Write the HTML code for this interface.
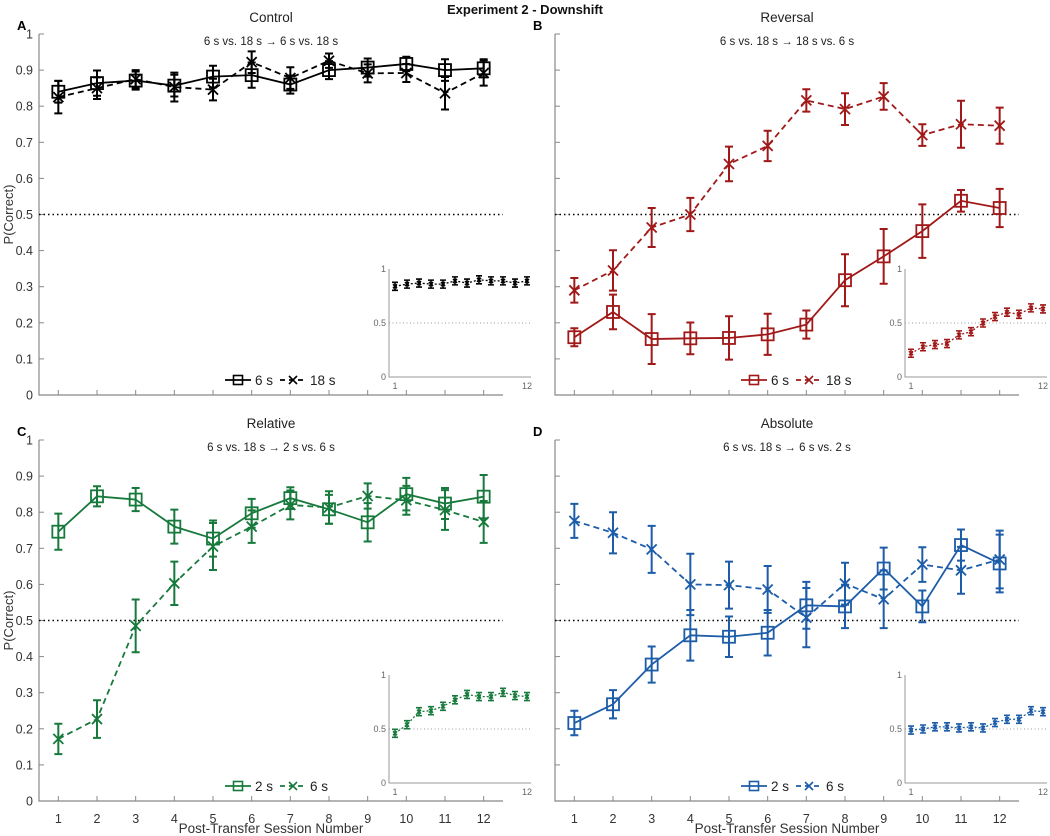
<!DOCTYPE html>
<html><head><meta charset="utf-8">
<style>
html,body{margin:0;padding:0;background:#fff;}
svg{display:block;font-family:"Liberation Sans",Arial,sans-serif;}
</style></head>
<body>
<svg id="fig" width="1050" height="836" viewBox="0 0 1050 836">
<text x="525" y="14" text-anchor="middle" font-size="13" font-weight="bold" fill="#111">Experiment 2 - Downshift</text>
</svg>
<script>
const sessions=[1,2,3,4,5,6,7,8,9,10,11,12];
const yTicks=[0,0.1,0.2,0.3,0.4,0.5,0.6,0.7,0.8,0.9,1];
const yTickLabels=["0","0.1","0.2","0.3","0.4","0.5","0.6","0.7","0.8","0.9","1"];
// Panel A Control
const aSolid=[0.84,0.864,0.871,0.857,0.882,0.886,0.86,0.90,0.907,0.917,0.90,0.905];
const aSolidErr=[0.03,0.035,0.025,0.03,0.03,0.035,0.025,0.025,0.025,0.02,0.03,0.025];
const aDash=[0.825,0.85,0.875,0.853,0.846,0.922,0.878,0.926,0.891,0.892,0.836,0.892];
const aDashErr=[0.045,0.03,0.025,0.04,0.03,0.03,0.03,0.02,0.025,0.025,0.045,0.035];
const aInset=[0.84,0.86,0.87,0.86,0.86,0.89,0.87,0.9,0.89,0.89,0.87,0.89];
// Panel B Reversal
const bSolid=[0.16,0.23,0.155,0.157,0.158,0.168,0.195,0.318,0.384,0.454,0.538,0.518];
const bSolidErr=[0.025,0.048,0.069,0.044,0.06,0.057,0.039,0.072,0.076,0.074,0.03,0.053];
const bDash=[0.29,0.345,0.464,0.50,0.64,0.69,0.816,0.792,0.827,0.72,0.75,0.746];
const bDashErr=[0.034,0.056,0.054,0.046,0.048,0.042,0.031,0.044,0.037,0.03,0.065,0.05];
const bInset=[0.22,0.28,0.30,0.31,0.39,0.42,0.50,0.56,0.60,0.58,0.64,0.63];
// Panel C Relative
const cSolid=[0.746,0.844,0.835,0.76,0.727,0.797,0.839,0.808,0.772,0.85,0.824,0.843];
const cSolidErr=[0.05,0.028,0.032,0.047,0.05,0.04,0.03,0.04,0.053,0.045,0.043,0.06];
const cDash=[0.172,0.227,0.485,0.603,0.705,0.76,0.82,0.813,0.845,0.833,0.806,0.773];
const cDashErr=[0.042,0.052,0.073,0.06,0.065,0.045,0.04,0.045,0.035,0.04,0.055,0.058];
const cInset=[0.46,0.54,0.66,0.67,0.71,0.77,0.82,0.80,0.80,0.84,0.81,0.80];
// Panel D Absolute
const dSolid=[0.216,0.268,0.378,0.459,0.455,0.466,0.542,0.539,0.644,0.539,0.709,0.658];
const dSolidErr=[0.034,0.039,0.05,0.07,0.056,0.063,0.065,0.06,0.058,0.044,0.043,0.08];
const dDash=[0.776,0.743,0.697,0.60,0.598,0.586,0.508,0.602,0.559,0.655,0.639,0.669];
const dDashErr=[0.047,0.057,0.065,0.085,0.065,0.065,0.082,0.058,0.08,0.048,0.065,0.08];
const dInset=[0.49,0.50,0.52,0.52,0.51,0.52,0.51,0.56,0.59,0.59,0.67,0.66];

const NS="http://www.w3.org/2000/svg";
const svg=document.getElementById('fig');
function mk(tag,attrs,parent){const e=document.createElementNS(NS,tag);for(const k in attrs)e.setAttribute(k,attrs[k]);(parent||svg).appendChild(e);return e;}

const panels=[
 {id:'a',letter:'A',title:'Control',sub:'6 s vs. 18 s \u2192 6 s vs. 18 s',ax:39,top:34,color:'#000',solid:aSolid,se:aSolidErr,dash:aDash,de:aDashErr,inset:aInset,l1:'6 s',l2:'18 s',ylab:true,xlab:false},
 {id:'b',letter:'B',title:'Reversal',sub:'6 s vs. 18 s \u2192 18 s vs. 6 s',ax:555,top:34,color:'#a01818',solid:bSolid,se:bSolidErr,dash:bDash,de:bDashErr,inset:bInset,l1:'6 s',l2:'18 s',ylab:false,xlab:false},
 {id:'c',letter:'C',title:'Relative',sub:'6 s vs. 18 s \u2192 2 s vs. 6 s',ax:39,top:440,color:'#177a3c',solid:cSolid,se:cSolidErr,dash:cDash,de:cDashErr,inset:cInset,l1:'2 s',l2:'6 s',ylab:true,xlab:true},
 {id:'d',letter:'D',title:'Absolute',sub:'6 s vs. 18 s \u2192 6 s vs. 2 s',ax:555,top:440,color:'#1c5ca8',solid:dSolid,se:dSolidErr,dash:dDash,de:dDashErr,inset:dInset,l1:'2 s',l2:'6 s',ylab:false,xlab:true}
];

function square(g,x,y,s,color,sw){return mk('rect',{x:x-s/2,y:y-s/2,width:s,height:s,fill:'none',stroke:color,'stroke-width':sw},g);}
function cross(g,x,y,s,color,sw){mk('path',{d:`M${x-s/2},${y-s/2}L${x+s/2},${y+s/2}M${x-s/2},${y+s/2}L${x+s/2},${y-s/2}`,stroke:color,'stroke-width':sw,fill:'none'},g);}

panels.forEach(p=>{
 const W=464,H=361;
 const sx=v=>p.ax+(v-0.5)/12*W;
 const sy=v=>p.top+H-v*H;
 const g=mk('g',{});
 
 
 const lt=mk('text',{x:p.ax-22,y:p.top-4,'font-size':13,'font-weight':'bold',fill:'#000'},g);lt.textContent=p.letter;
 
 
 const tt=mk('text',{x:p.ax+W/2,y:p.top-12,'text-anchor':'middle','font-size':13.5,fill:'#222'},g);tt.textContent=p.title;
 
 
 const st=mk('text',{x:p.ax+W/2,y:p.top+11,'text-anchor':'middle','font-size':11.5,fill:'#222'},g);st.textContent=p.sub;
 
 
 const axl=mk('path',{d:`M${p.ax},${p.top}V${p.top+H}H${p.ax+W}`,stroke:'#888',fill:'none','stroke-width':1.2},g);
 
 
 yTicks.forEach((t,i)=>{
  mk('line',{x1:p.ax,x2:p.ax+5,y1:sy(t),y2:sy(t),stroke:'#888','stroke-width':1},g);
  if(p.ylab){const tx=mk('text',{x:p.ax-6,y:sy(t)+4.5,'text-anchor':'end','font-size':12.5,fill:'#333'},g);tx.textContent=yTickLabels[i];
   
   }
 });
 sessions.forEach(s=>{
  mk('line',{x1:sx(s),x2:sx(s),y1:p.top+H,y2:p.top+H-5,stroke:'#888','stroke-width':1},g);
  if(p.xlab){const tx=mk('text',{x:sx(s),y:p.top+H+22,'text-anchor':'middle','font-size':12.5,fill:'#333'},g);tx.textContent=String(s);
   
   }
 });
 if(p.ylab){const yl=mk('text',{x:0,y:0,transform:`translate(13,${p.top+H/2}) rotate(-90)`,'text-anchor':'middle','font-size':13,fill:'#333'},g);yl.textContent='P(Correct)';
  
  }
 if(p.xlab){const xl=mk('text',{x:p.ax+W/2,y:p.top+H+32,'text-anchor':'middle','font-size':13.5,fill:'#333'},g);xl.textContent='Post-Transfer Session Number';
  
  }
 const ch=mk('line',{x1:p.ax,x2:p.ax+W,y1:sy(0.5),y2:sy(0.5),stroke:'#000','stroke-width':1.5,'stroke-dasharray':'1.5 3'},g);
 
 
 // inset
 const ix=p.ax+350, iy=p.top+235, iw=142, ih=108;
 const isx=v=>ix+6+(v-1)/11*(iw-10);
 const isy=v=>iy+ih-v*ih;
 const ig=mk('g',{},g);
 
 
 mk('path',{d:`M${ix},${iy}V${iy+ih}H${ix+iw}`,stroke:'#999',fill:'none','stroke-width':1},ig);
 mk('line',{x1:ix,x2:ix+iw,y1:isy(0.5),y2:isy(0.5),stroke:'#999','stroke-width':1,'stroke-dasharray':'1 2.5'},ig);
 [[1,'1'],[0.5,'0.5'],[0,'0']].forEach(([v,l])=>{const t=mk('text',{x:ix-3,y:isy(v)+3,'text-anchor':'end','font-size':9,fill:'#666'},ig);t.textContent=l;});
 [[1,'1'],[12,'12']].forEach(([v,l])=>{const t=mk('text',{x:isx(v),y:iy+ih+12,'text-anchor':'middle','font-size':9,fill:'#666'},ig);t.textContent=l;});
 const ipts=p.inset.map((v,i)=>[isx(sessions[i]),isy(v)]);
 mk('polyline',{points:ipts.map(q=>q.join(',')).join(' '),fill:'none',stroke:p.color,'stroke-width':1.3,'stroke-dasharray':'2 2'},ig);
 ipts.forEach(([x,y])=>{
  mk('path',{d:`M${x},${y-4}V${y+4}M${x-3},${y-4}H${x+3}M${x-3},${y+4}H${x+3}`,stroke:p.color,'stroke-width':1.6,fill:'none'},ig);
  cross(ig,x,y,4,p.color,1.6);
 });
 function series(vals,errs,dashed,marker,name){
  const sg=mk('g',{},g);
  
  
  const pts=vals.map((v,i)=>[sx(sessions[i]),sy(v)]);
  const line=mk('polyline',{points:pts.map(q=>q.join(',')).join(' '),fill:'none',stroke:p.color,'stroke-width':1.8},sg);
  if(dashed)line.setAttribute('stroke-dasharray','6 4');
  pts.forEach(([x,y],i)=>{
   const e=errs[i]*H;
   mk('path',{d:`M${x},${y-e}V${y+e}M${x-4},${y-e}H${x+4}M${x-4},${y+e}H${x+4}`,stroke:p.color,'stroke-width':2,fill:'none'},sg);
   if(marker==='sq')square(sg,x,y,12,p.color,1.8);else cross(sg,x,y,10,p.color,1.8);
  });
 }
 series(p.dash,p.de,true,'x','series-dashed-'+p.id);
 series(p.solid,p.se,false,'sq','series-solid-'+p.id);
 const lg=mk('g',{},g);
 
 
 const lx=p.ax+186, ly=p.top+H-15;
 mk('line',{x1:lx,x2:lx+26,y1:ly,y2:ly,stroke:p.color,'stroke-width':1.8},lg);
 square(lg,lx+13,ly,9,p.color,1.6);
 const t1=mk('text',{x:lx+30,y:ly+5,'font-size':13.5,fill:'#222'},lg);t1.textContent=p.l1;
 const l2x=lx+55;
 mk('line',{x1:l2x,x2:l2x+26,y1:ly,y2:ly,stroke:p.color,'stroke-width':1.8,'stroke-dasharray':'5 4'},lg);
 cross(lg,l2x+13,ly,8,p.color,1.6);
 const t2=mk('text',{x:l2x+30,y:ly+5,'font-size':13.5,fill:'#222'},lg);t2.textContent=p.l2;
});
</script>
</body></html>
